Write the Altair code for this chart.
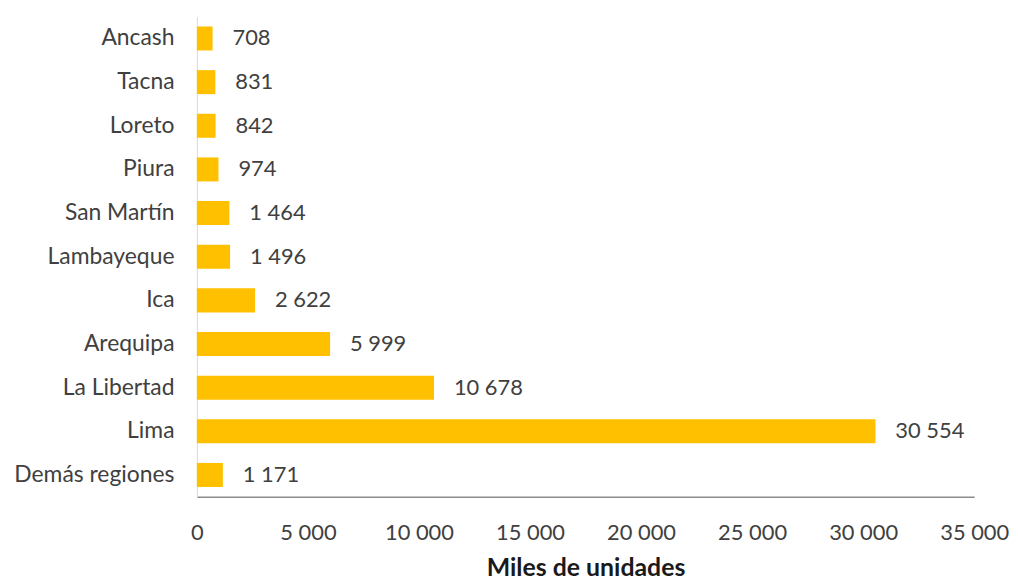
import altair as alt
import pandas as pd

regions = ["Ancash", "Tacna", "Loreto", "Piura", "San Martín", "Lambayeque",
           "Ica", "Arequipa", "La Libertad", "Lima", "Demás regiones"]
values = [708, 831, 842, 974, 1464, 1496, 2622, 5999, 10678, 30554, 1171]
tick_values = [0, 5000, 10000, 15000, 20000, 25000, 30000, 35000]

df = pd.DataFrame({"region": regions, "value": values})

fmt = "replace(format(datum.value, ','), regexp(',', 'g'), ' ')"

y_enc = alt.Y(
    "region:N", sort=regions,
    scale=alt.Scale(paddingInner=0.45, paddingOuter=0.225),
    axis=alt.Axis(title=None, labelFont="Lato", labelFontSize=23,
                  labelColor="#404040", labelPadding=23, ticks=False, tickSize=0,
                  domainColor="#d9d9d9", domainWidth=1,
                  labelExpr="datum.label == 'Lima' ? 'Lima\u00a0' : datum.label"),
)

x_enc = alt.X(
    "value:Q",
    scale=alt.Scale(domain=[0, 35000], nice=False, zero=True),
    axis=alt.Axis(values=tick_values, title="Miles de unidades",
                  titleFont="Lato", titleFontSize=25, titleFontWeight="bold",
                  titleColor="#1a1a1a", titleBaseline="alphabetic", titleY=79,
                  labelFont="Lato", labelFontSize=22, labelColor="#404040",
                  labelBaseline="alphabetic", labelPadding=43, labelFlush=False,
                  ticks=False, tickSize=0, grid=False,
                  domainColor="#8c8c8c", domainWidth=1.5, labelExpr=fmt),
)

bars = alt.Chart(df).mark_bar(color="#FFC000").encode(x=x_enc, y=y_enc)

text = alt.Chart(df).transform_calculate(
    label=fmt
).mark_text(align="left", baseline="middle", dx=20, font="Lato",
            fontSize=22, color="#404040").encode(
    x=alt.X("value:Q"), y=alt.Y("region:N", sort=regions), text="label:N"
)

chart = alt.layer(bars, text).properties(
    width=782, height=483,
    autosize=alt.AutoSizeParams(type="none"),
    padding={"left": 190, "top": 7, "right": 36, "bottom": 84},
).configure_view(stroke=None)

chart.save("out.html", embed_options={"renderer": "svg", "actions": False})
